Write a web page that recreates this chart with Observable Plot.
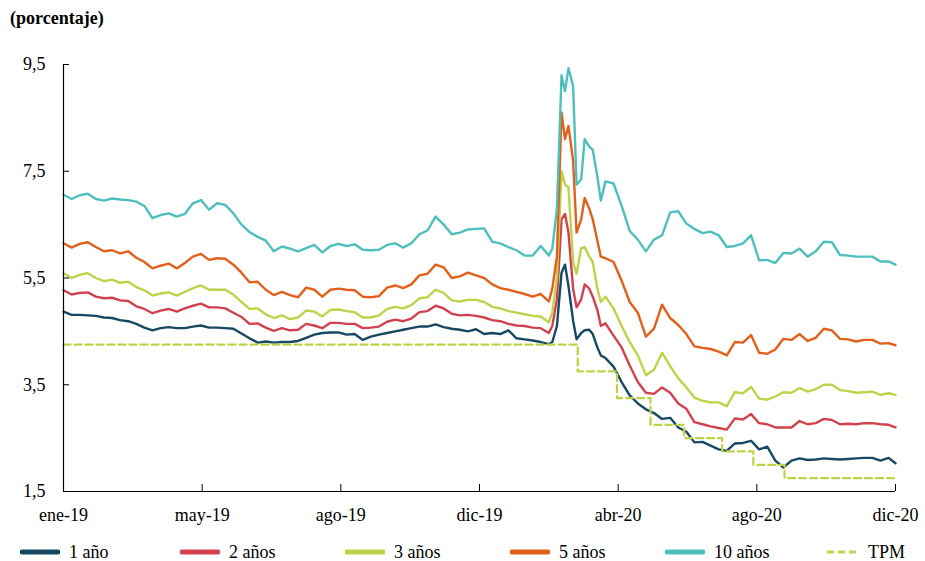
<!DOCTYPE html>
<html><head><meta charset="utf-8">
<script src="https://cdn.jsdelivr.net/npm/d3@7"></script>
<script src="https://cdn.jsdelivr.net/npm/@observablehq/plot@0.6"></script>
<style>
body{margin:0;background:#fff;font-family:"Liberation Serif","Times New Roman",serif;color:#000;}
#wrap{width:925px;height:561px;position:relative;overflow:hidden;}
#title{height:40px;box-sizing:border-box;padding:7px 0 0 10px;font-family:"Liberation Serif",serif;font-weight:bold;font-size:18px;line-height:22px;}
#legend{display:flex;padding:10px 0 0 20px;font-size:18px;line-height:22px;}
.item{display:flex;align-items:center;}
.item svg{margin-right:9px;}
</style></head>
<body><div id="wrap"><div id="title">(porcentaje)</div><div id="chart"></div><div id="legend"></div></div>
<script>
const fechas = [
"2019-01-02","2019-01-09","2019-01-16","2019-01-23","2019-01-30",
"2019-02-06","2019-02-13","2019-02-20","2019-02-27",
"2019-03-06","2019-03-13","2019-03-20","2019-03-27",
"2019-04-03","2019-04-10","2019-04-17","2019-04-24",
"2019-05-01","2019-05-08","2019-05-15","2019-05-22","2019-05-29",
"2019-06-05","2019-06-12","2019-06-19","2019-06-26",
"2019-07-03","2019-07-10","2019-07-17","2019-07-24","2019-07-31",
"2019-08-07","2019-08-14","2019-08-21","2019-08-28",
"2019-09-04","2019-09-11","2019-09-18","2019-09-25",
"2019-10-02","2019-10-09","2019-10-16","2019-10-23","2019-10-30",
"2019-11-06","2019-11-13","2019-11-20","2019-11-27",
"2019-12-04","2019-12-11","2019-12-18","2019-12-25",
"2020-01-01","2020-01-08","2020-01-15","2020-01-22","2020-01-29",
"2020-02-05","2020-02-12","2020-02-19","2020-02-26","2020-02-29",
"2020-03-04","2020-03-08","2020-03-11","2020-03-14","2020-03-18","2020-03-21","2020-03-25","2020-03-28",
"2020-04-01","2020-04-04","2020-04-08","2020-04-11","2020-04-15","2020-04-22","2020-04-29",
"2020-05-06","2020-05-13","2020-05-20","2020-05-27",
"2020-06-03","2020-06-10","2020-06-17","2020-06-24",
"2020-07-01","2020-07-08","2020-07-15","2020-07-22","2020-07-29",
"2020-08-05","2020-08-12","2020-08-19","2020-08-26",
"2020-09-02","2020-09-09","2020-09-16","2020-09-23","2020-09-30",
"2020-10-07","2020-10-14","2020-10-21","2020-10-28",
"2020-11-04","2020-11-11","2020-11-18","2020-11-25",
"2020-12-02","2020-12-09","2020-12-16","2020-12-22"];

const anio1 = [
4.87,4.81,4.81,4.80,4.79,4.76,4.75,4.71,4.69,4.64,
4.57,4.52,4.56,4.58,4.56,4.56,4.59,4.61,4.57,4.57,
4.56,4.55,4.46,4.37,4.29,4.31,4.29,4.30,4.30,4.32,
4.38,4.44,4.47,4.48,4.48,4.44,4.45,4.34,4.40,4.44,
4.47,4.50,4.53,4.56,4.59,4.59,4.63,4.58,4.55,4.53,
4.50,4.54,4.45,4.47,4.45,4.52,4.37,4.35,4.33,4.30,
4.26,4.30,4.60,5.60,5.75,5.35,4.70,4.35,4.47,4.52,4.53,4.45,4.20,4.05,
4.00,3.84,3.55,
3.30,3.15,3.04,2.97,2.86,2.88,2.70,2.62,2.42,2.43,
2.36,2.29,2.26,2.40,2.41,2.45,2.29,2.34,2.08,1.95,
2.08,2.12,2.09,2.10,2.12,2.11,2.10,2.11,2.12,2.13,
2.13,2.08,2.13,2.03];

const anios2 = [
5.27,5.19,5.22,5.23,5.15,5.12,5.13,5.08,5.07,4.97,
4.92,4.84,4.89,4.92,4.87,4.93,4.98,5.02,4.95,4.95,
4.93,4.85,4.77,4.64,4.65,4.57,4.51,4.56,4.52,4.53,
4.64,4.61,4.56,4.66,4.66,4.64,4.64,4.56,4.57,4.59,
4.68,4.72,4.69,4.74,4.86,4.88,4.98,4.93,4.83,4.80,
4.81,4.79,4.76,4.71,4.69,4.64,4.61,4.60,4.57,4.56,
4.47,4.60,5.10,6.60,6.70,6.35,5.30,4.95,5.10,5.38,5.30,5.15,4.90,4.60,
4.65,4.42,4.20,
3.86,3.55,3.35,3.33,3.45,3.35,3.15,3.05,2.80,2.76,
2.72,2.69,2.66,2.87,2.85,2.95,2.78,2.76,2.70,2.70,
2.70,2.82,2.76,2.78,2.86,2.84,2.76,2.77,2.76,2.78,
2.78,2.76,2.75,2.70];

const anios3 = [
5.59,5.50,5.56,5.59,5.50,5.44,5.47,5.41,5.43,5.33,
5.27,5.17,5.21,5.23,5.17,5.24,5.31,5.36,5.28,5.28,
5.28,5.19,5.05,4.92,4.93,4.82,4.75,4.80,4.73,4.76,
4.89,4.87,4.78,4.90,4.91,4.88,4.86,4.76,4.76,4.80,
4.92,4.96,4.93,4.99,5.12,5.14,5.28,5.22,5.08,5.06,
5.09,5.09,5.05,4.96,4.93,4.88,4.85,4.82,4.79,4.78,
4.67,4.85,5.50,7.50,7.25,7.20,5.80,5.58,6.06,6.08,5.90,5.80,5.30,5.05,
5.15,4.93,4.60,
4.30,4.05,3.68,3.78,4.10,3.85,3.62,3.45,3.26,3.20,
3.17,3.17,3.10,3.36,3.34,3.46,3.24,3.22,3.28,3.36,
3.35,3.44,3.37,3.42,3.50,3.50,3.40,3.38,3.35,3.36,
3.37,3.31,3.34,3.31];

const anios5 = [
6.15,6.07,6.14,6.17,6.08,6.00,6.02,5.96,6.00,5.88,
5.80,5.68,5.73,5.77,5.68,5.78,5.90,5.95,5.84,5.87,
5.86,5.75,5.60,5.42,5.43,5.28,5.18,5.24,5.18,5.14,
5.32,5.28,5.15,5.28,5.30,5.28,5.27,5.15,5.14,5.16,
5.32,5.36,5.31,5.38,5.55,5.58,5.75,5.70,5.50,5.53,
5.60,5.55,5.50,5.38,5.31,5.28,5.24,5.20,5.15,5.20,
5.06,5.30,5.90,8.60,8.10,8.35,7.70,6.35,6.60,7.00,6.80,6.60,6.20,5.90,
5.87,5.80,5.45,
5.05,4.85,4.40,4.55,5.00,4.75,4.62,4.45,4.22,4.19,
4.17,4.12,4.05,4.30,4.29,4.43,4.10,4.08,4.16,4.36,
4.34,4.45,4.32,4.38,4.55,4.52,4.36,4.35,4.31,4.34,
4.34,4.27,4.28,4.24];

const anios10 = [
7.06,6.98,7.05,7.08,6.98,6.95,6.99,6.97,6.96,6.93,
6.85,6.62,6.68,6.71,6.65,6.70,6.90,6.96,6.78,6.90,
6.87,6.71,6.50,6.36,6.27,6.20,6.00,6.09,6.05,6.00,
6.06,6.12,5.98,6.10,6.14,6.10,6.13,6.03,6.02,6.03,
6.12,6.15,6.07,6.15,6.32,6.39,6.65,6.50,6.32,6.35,
6.41,6.42,6.43,6.18,6.15,6.08,6.02,5.92,5.92,6.10,
5.92,6.05,6.80,9.30,9.00,9.43,9.10,7.25,7.35,8.10,7.96,7.90,7.40,6.95,
7.31,7.27,6.85,
6.38,6.22,6.00,6.22,6.30,6.73,6.75,6.52,6.42,6.34,
6.37,6.30,6.08,6.10,6.15,6.30,5.83,5.84,5.78,5.97,
5.96,6.05,5.90,6.00,6.18,6.17,5.93,5.92,5.90,5.90,
5.90,5.81,5.81,5.75];

const tpmFechas = ["2019-01-02","2020-03-22","2020-04-25","2020-05-24","2020-06-22","2020-07-25","2020-08-21","2020-09-17","2020-12-22"];
const tpmValores = [4.25,3.75,3.25,2.75,2.50,2.25,2.00,1.75,1.75];

const nombres = ["1 año","2 años","3 años","5 años","10 años","TPM"];
const colores = ["#174a62","#d0424f","#c0d24a","#e0601c","#4fbfbd","#c0d24a"];
const yTicks = [1.5,3.5,5.5,7.5,9.5];
const xTickFechas = ["2019-01-02","2019-05-02","2019-08-30","2019-12-28","2020-04-26","2020-08-24","2020-12-22"];
const meses = ["ene","feb","mar","abr","may","jun","jul","ago","sep","oct","nov","dic"];

const parse = s => new Date(s + "T00:00:00Z");
const fechasD = fechas.map(parse);
const series = [anio1, anios2, anios3, anios5, anios10];
const tablas = series.map(vals => vals.map((v, i) => ({fecha: fechasD[i], valor: v})));
const tpm = tpmValores.map((v, i) => ({fecha: parse(tpmFechas[i]), valor: v}));
const xTicks = xTickFechas.map(parse);
const start = parse(xTickFechas[0]), end = parse(xTickFechas[xTickFechas.length - 1]);

const W = 925, H = 491, mL = 63, mR = 30, mT = 24, mB = 40;
const plotH = H - mT - mB, plotW = W - mL - mR;

const chart = Plot.plot({
  width: W, height: H,
  marginLeft: mL, marginRight: mR, marginTop: mT, marginBottom: mB,
  style: {fontFamily: "'Liberation Serif','Times New Roman',serif", fontSize: "18px", color: "#000", background: "#fff"},
  x: {type: "utc", domain: [start, end], label: null},
  y: {domain: [1.5, 9.5], label: null},
  marks: [
    ...tablas.map((t, i) => Plot.line(t, {x: "fecha", y: "valor", stroke: colores[i], strokeWidth: 2.4, strokeLinejoin: "round", strokeLinecap: "round"})),
    Plot.line(tpm, {x: "fecha", y: "valor", curve: "step-after", stroke: colores[5], strokeWidth: 2.3, strokeDasharray: "7,4"}),
    Plot.ruleX([start], {stroke: "#000", strokeWidth: 1.2}),
    Plot.ruleY([1.5], {stroke: "#000", strokeWidth: 1.2}),
    Plot.tickY(yTicks, {y: d => d, stroke: "#000", insetRight: plotW - 6}),
    Plot.tickX(xTicks, {x: d => d, stroke: "#000", insetTop: plotH - 7}),
    Plot.axisY({ticks: yTicks, tickSize: 0, tickPadding: 18, label: null, tickFormat: d => d.toFixed(1).replace(".", ","), fontSize: 18}),
    Plot.axisX({ticks: xTicks, tickSize: 0, tickPadding: 17, label: null, tickFormat: d => meses[d.getUTCMonth()] + "-" + String(d.getUTCFullYear()).slice(2), fontSize: 18})
  ]
});
document.getElementById("chart").appendChild(chart);

const anchos = [160, 165, 165, 155, 160, 80];
const leg = document.getElementById("legend");
nombres.forEach((n, i) => {
  const it = document.createElement("div");
  it.className = "item";
  it.style.width = anchos[i] + "px";
  const dash = n === "TPM" ? ' stroke-dasharray="7,4"' : '';
  const cap = n === "TPM" ? 'butt' : 'round';
  const sw = n === "TPM" ? 3 : 5;
  it.innerHTML = `<svg width="40" height="12"><line x1="2" y1="6" x2="38" y2="6" stroke="${colores[i]}" stroke-width="${sw}" stroke-linecap="${cap}"${dash}/></svg><span>${n}</span>`;
  leg.appendChild(it);
});
</script></body></html>
